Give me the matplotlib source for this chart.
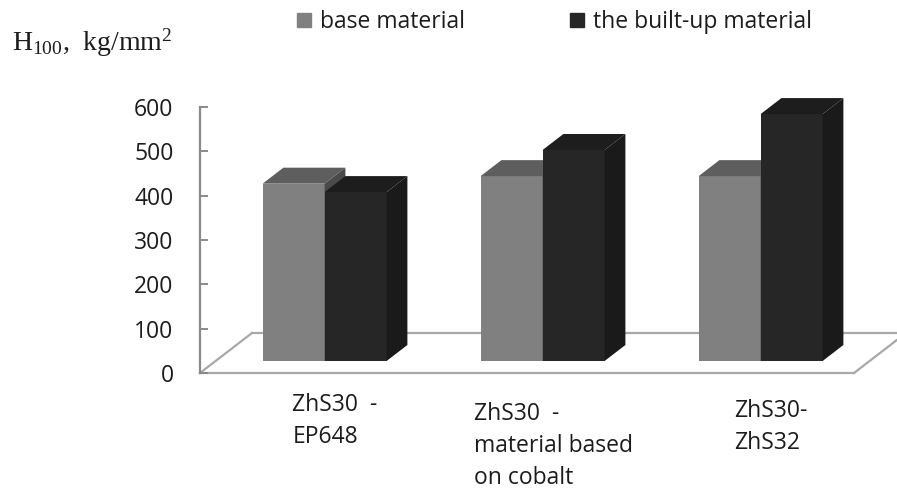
import matplotlib.pyplot as plt
from matplotlib.patches import Polygon, Patch

plt.rcParams['font.family'] = ['Open Sans', 'DejaVu Sans']
plt.rcParams['mathtext.fontset'] = 'custom'
plt.rcParams['mathtext.rm'] = 'Liberation Serif'

categories = ["ZhS30  -\nEP648", "ZhS30  -\nmaterial based\non cobalt", "ZhS30-\nZhS32"]
series_names = ["base material", "the built-up material"]
base_material = [400, 417, 417]
built_up = [381, 476, 557]
y_ticks = [0, 100, 200, 300, 400, 500, 600]

# face colours: front, top, side
GRAY = ("#808080", "#5e5e5e", "#4a4a4a")
BLACK = ("#262626", "#1d1d1d", "#1a1a1a")
TEXT = "#1c1c1c"
FS = 16.5

# pixel geometry of the pseudo-3D box
W, H = 897, 497
X0, Y0 = 309, 373          # pixel position of data (0, 0) on the front plane
PX_X, PX_Y = 218, 0.4433   # pixels per category / per value unit
DEPTH = (52 / PX_X, 40 / PX_Y)   # full floor depth in data units
BAR_W = 62 / PX_X
BAR_D0, BAR_D1 = 0.3, 0.7        # bar depth span as a fraction of floor depth


def shift(x, y, d):
    return x + DEPTH[0] * d, y + DEPTH[1] * d


fig = plt.figure(figsize=(W / 100, H / 100), dpi=100)
ax = fig.add_axes([0, 0, 1, 1])
ax.set_xlim(-X0 / PX_X, (W - X0) / PX_X)
ax.set_ylim(-(H - Y0) / PX_Y, Y0 / PX_Y)

# floor outline
n = len(categories)
fl, fr = -0.5, n - 0.5
floor_col = "#a8a8a8"
bl, br = shift(fl, 0, 1), shift(fr, 0, 1)
ax.plot([fl, fr], [0, 0], color=floor_col, lw=1.6, zorder=1)
ax.plot([fl, bl[0]], [0, bl[1]], color=floor_col, lw=1.6, zorder=1)
ax.plot([bl[0], br[0] + 1], [bl[1], br[1]], color=floor_col, lw=1.6, zorder=1)
ax.plot([fr, br[0]], [0, br[1]], color=floor_col, lw=1.6, zorder=1)


def draw_bar(xl, value, colors, z):
    front, top, side = colors
    x0, y0 = shift(xl, 0, BAR_D0)
    x1 = x0 + BAR_W
    ax.bar(x0, value, width=BAR_W, bottom=y0, align='edge', color=front,
           linewidth=0, zorder=z)
    dx, dy = DEPTH[0] * (BAR_D1 - BAR_D0), DEPTH[1] * (BAR_D1 - BAR_D0)
    yt = y0 + value
    ax.add_patch(Polygon([(x0, yt), (x1, yt), (x1 + dx, yt + dy), (x0 + dx, yt + dy)],
                         closed=True, color=top, lw=0, zorder=z))
    ax.add_patch(Polygon([(x1, y0), (x1 + dx, y0 + dy), (x1 + dx, yt + dy), (x1, yt)],
                         closed=True, color=side, lw=0, zorder=z))


for i in range(n):
    # the built-up bar sits right of the base bar and hides its side wall
    draw_bar(i - BAR_W, base_material[i], GRAY, 3)
    draw_bar(i, built_up[i], BLACK, 4)

# value axis on the front-left edge
for s in ["top", "right", "bottom"]:
    ax.spines[s].set_visible(False)
ax.spines["left"].set_position(("data", fl))
ax.spines["left"].set_bounds(0, 600)
ax.spines["left"].set_color("#8a8a8a")
ax.spines["left"].set_linewidth(1.6)
ax.set_yticks(y_ticks)
ax.tick_params(axis="y", direction="in", length=6, width=1.4, color="#8a8a8a",
               pad=19, labelsize=FS, labelcolor=TEXT)
ax.set_xticks([])

# category labels under the floor
label_drop = [0, 9, 6]
for i, lab in enumerate(categories):
    xc = i + DEPTH[0] * 0.5
    yc = -(393 + label_drop[i] - Y0) / PX_Y
    ax.text(xc, yc, lab, ha="center", va="top", multialignment="left",
            fontsize=FS, color=TEXT, linespacing=1.45)

fig.text(12 / W, 1 - 51 / H, r"H$\mathregular{_{100}}$,  kg/mm$\mathregular{^2}$",
         fontsize=20, family="Liberation Serif", color=TEXT, va="baseline")

handles = [Patch(color=GRAY[0]), Patch(color=BLACK[0])]
fig.legend(handles, series_names, loc="center left",
           bbox_to_anchor=(297 / W, 1 - 22 / H), ncol=2, frameon=False,
           fontsize=FS, handlelength=0.6, handleheight=0.6, handletextpad=0.4,
           columnspacing=4.6, labelcolor=TEXT, borderaxespad=0, borderpad=0)

fig.savefig("out.png", dpi=100)
